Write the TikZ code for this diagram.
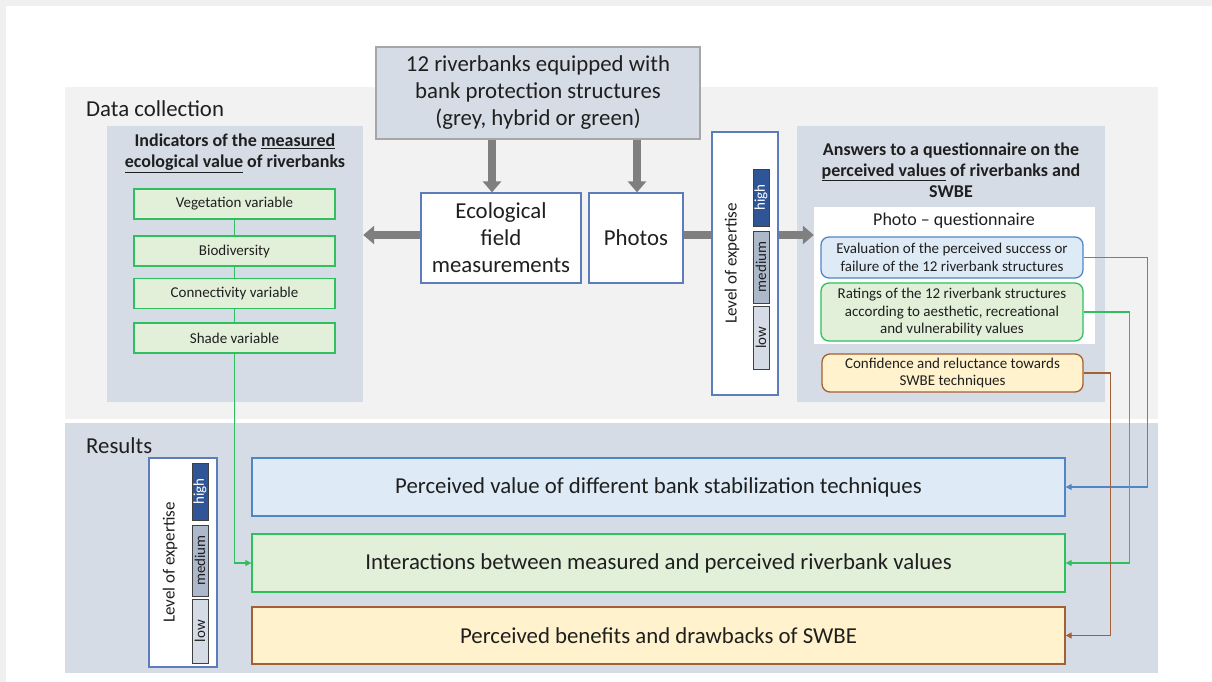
\documentclass[tikz,border=0pt]{standalone}
\usepackage{fontspec}
\setmainfont{Carlito}
\usetikzlibrary{arrows.meta,positioning}

\definecolor{outergray}{HTML}{F0F0F0}
\definecolor{dcgray}{HTML}{F2F2F2}
\definecolor{slate}{HTML}{D6DCE5}
\definecolor{framegray}{HTML}{A6A6A6}
\definecolor{boxblue}{HTML}{5B7DBA}
\definecolor{arrowgray}{HTML}{7F7F7F}
\definecolor{greenfill}{HTML}{E2F0D9}
\definecolor{greenline}{HTML}{2FBF5E}
\definecolor{bluefill}{HTML}{DEEBF7}
\definecolor{blueline}{HTML}{4F86C6}
\definecolor{yellowfill}{HTML}{FFF2CC}
\definecolor{brownline}{HTML}{A35F35}
\definecolor{highblue}{HTML}{2F5597}
\definecolor{medgray}{HTML}{ADB9CA}
\definecolor{textdark}{HTML}{1F1F1F}

\begin{document}
\begin{tikzpicture}[x=1pt,y=-1pt,text=textdark,
  bigfont/.style={font=\fontsize{22.8}{27}\selectfont},
  plainbox/.style={draw=boxblue,line width=1.2pt,fill=white,inner sep=0pt,align=center,bigfont},
  varbox/.style={draw=greenline,line width=1.3pt,fill=greenfill,minimum width=201pt,minimum height=30pt,inner sep=0pt,font=\fontsize{15}{17.5}\selectfont},
  qbox/.style={rounded corners=8pt,line width=1.3pt,minimum width=262pt,inner sep=0pt,align=center,font=\fontsize{15}{17.7}\selectfont},
  resbox/.style={line width=1.3pt,minimum width=813pt,minimum height=58pt,inner sep=0pt,bigfont},
  levelbox/.style={draw=black!75,line width=1pt,rotate=90,minimum height=16pt,inner sep=0pt,font=\fontsize{15}{17}\selectfont},
  heading/.style={align=center,inner sep=0pt,font=\fontsize{18}{21}\selectfont\bfseries},
  fatarrow/.style={arrowgray,line width=7.5pt,-{Triangle[width=18pt,length=11pt]}},
  link/.style={line width=1.1pt,-{Triangle[width=6pt,length=6pt]}}]

  \useasboundingbox (0,0) rectangle (1212,682);
  \fill[outergray] (0,0) rectangle (1212,682);
  \fill[white] (6,6) rectangle (1212,682);

  % two bands
  \fill[dcgray] (65,87) rectangle (1158,419);
  \fill[slate] (65,423) rectangle (1158,673);
  \node[anchor=base west,inner sep=0pt,bigfont] (dclabel) at (86,117) {Data collection};
  \node[anchor=base west,inner sep=0pt,bigfont] (reslabel) at (86,453) {Results};

  % measured ecological value
  \node[fill=slate,minimum width=256pt,minimum height=276pt,inner sep=0pt] (indpanel) at (235,264) {};
  \node[heading] (indhead) at (235,153) {Indicators of the \underline{measured}\\\underline{ecological value} of riverbanks};
  \node[varbox] (veg) at (234.5,204) {Vegetation variable};
  \node[varbox] (bio) at (234.5,251) {Biodiversity};
  \node[varbox] (con) at (234.5,293.5) {Connectivity variable};
  \node[varbox] (shade) at (234.5,338) {Shade variable};
  \draw[greenline,line width=1.3pt] (veg) -- (bio);
  \draw[greenline,line width=1.3pt] (bio) -- (con);
  \draw[greenline,line width=1.3pt] (con) -- (shade);

  % sites and field work
  \node[fill=slate,draw=framegray,line width=1.2pt,minimum width=324pt,minimum height=92pt,inner sep=0pt,align=center,bigfont] (sites) at (538,93)
    {12 riverbanks equipped with\\bank protection structures\\(grey, hybrid or green)};
  \node[plainbox,minimum width=160pt,minimum height=90pt] (eco) at (501,238) {Ecological\\field\\measurements};
  \node[plainbox,minimum width=94pt,minimum height=90pt] (photos) at (636,238) {Photos};

  % perceived values
  \node[fill=slate,minimum width=308pt,minimum height=276pt,inner sep=0pt] (anspanel) at (951,264) {};
  \node[heading] (anshead) at (951,170) {Answers to a questionnaire on the\\\underline{perceived values} of riverbanks and\\SWBE};
  \node[fill=white,minimum width=281pt,minimum height=137pt,inner sep=0pt] (quest) at (954.5,275.5) {};
  \node[inner sep=0pt,font=\fontsize{18}{21}\selectfont] (questlabel) at (954,221) {Photo -- questionnaire};
  \node[qbox,draw=blueline,fill=bluefill,minimum height=41pt] (eval) at (952,257.5)
    {Evaluation of the perceived success or\\failure of the 12 riverbank structures};
  \node[qbox,draw=greenline,fill=greenfill,minimum height=58pt] (rate) at (952,312)
    {Ratings of the 12 riverbank structures\\according to aesthetic, recreational\\and vulnerability values};
  \node[qbox,draw=brownline,fill=yellowfill,minimum height=38pt,minimum width=261pt] (conf) at (952.5,373)
    {Confidence and reluctance towards\\SWBE techniques};

  % fat arrows
  \draw[fatarrow] ([xshift=-9pt]eco.north |- sites.south) -- ([xshift=-9pt]eco.north);
  \draw[fatarrow] ([xshift=1pt]photos.north |- sites.south) -- ([xshift=1pt]photos.north);
  \draw[fatarrow] ([yshift=3pt]eco.west) -- ([yshift=3pt]indpanel.east |- eco.west);
  \draw[fatarrow] ([yshift=3pt]photos.east) -- ([yshift=3pt]quest.west |- photos.east);

  % level of expertise (data collection)
  \node[draw=boxblue,line width=1.2pt,fill=white,minimum width=66pt,minimum height=263pt,inner sep=0pt] (lvlA) at (745,263.5) {};
  \node[rotate=90,inner sep=0pt,font=\fontsize{17}{20}\selectfont] (lvlAtext) at (732,263.5) {Level of expertise};
  \node[levelbox,fill=highblue,text=white,minimum width=57pt] (highA) at (761,197.5) {high};
  \node[levelbox,fill=medgray,minimum width=72pt] (medA) at (761,267) {medium};
  \node[levelbox,fill=slate,minimum width=63pt] (lowA) at (761,337.5) {low};

  % results
  \node[resbox,draw=blueline,fill=bluefill] (perc) at (658.5,487) {Perceived value of different bank stabilization techniques};
  \node[resbox,draw=greenline,fill=greenfill] (inter) at (658.5,563) {Interactions between measured and perceived riverbank values};
  \node[resbox,draw=brownline,fill=yellowfill,minimum height=57pt] (bene) at (658.5,635.5) {Perceived benefits and drawbacks of SWBE};

  % level of expertise (results)
  \node[draw=boxblue,line width=1.2pt,fill=white,minimum width=68pt,minimum height=209pt,inner sep=0pt] (lvlB) at (183,562.5) {};
  \node[rotate=90,inner sep=0pt,font=\fontsize{17}{20}\selectfont] (lvlBtext) at (170,562.5) {Level of expertise};
  \node[levelbox,fill=highblue,text=white,minimum width=57pt] (highB) at (200,491.5) {high};
  \node[levelbox,fill=medgray,minimum width=71pt] (medB) at (200,560.5) {medium};
  \node[levelbox,fill=slate,minimum width=64pt] (lowB) at (200,631) {low};

  % links into results
  \draw[link,greenline] (shade.south) |- (inter.west);
  \draw[link,blueline] (eval.east) -- ++(64,0) |- (perc.east);
  \draw[link,greenline] (rate.east) -- ++(46,0) |- (inter.east);
  \draw[link,brownline] (conf.east) -- ++(27,0) |- (bene.east);
\end{tikzpicture}
\end{document}
